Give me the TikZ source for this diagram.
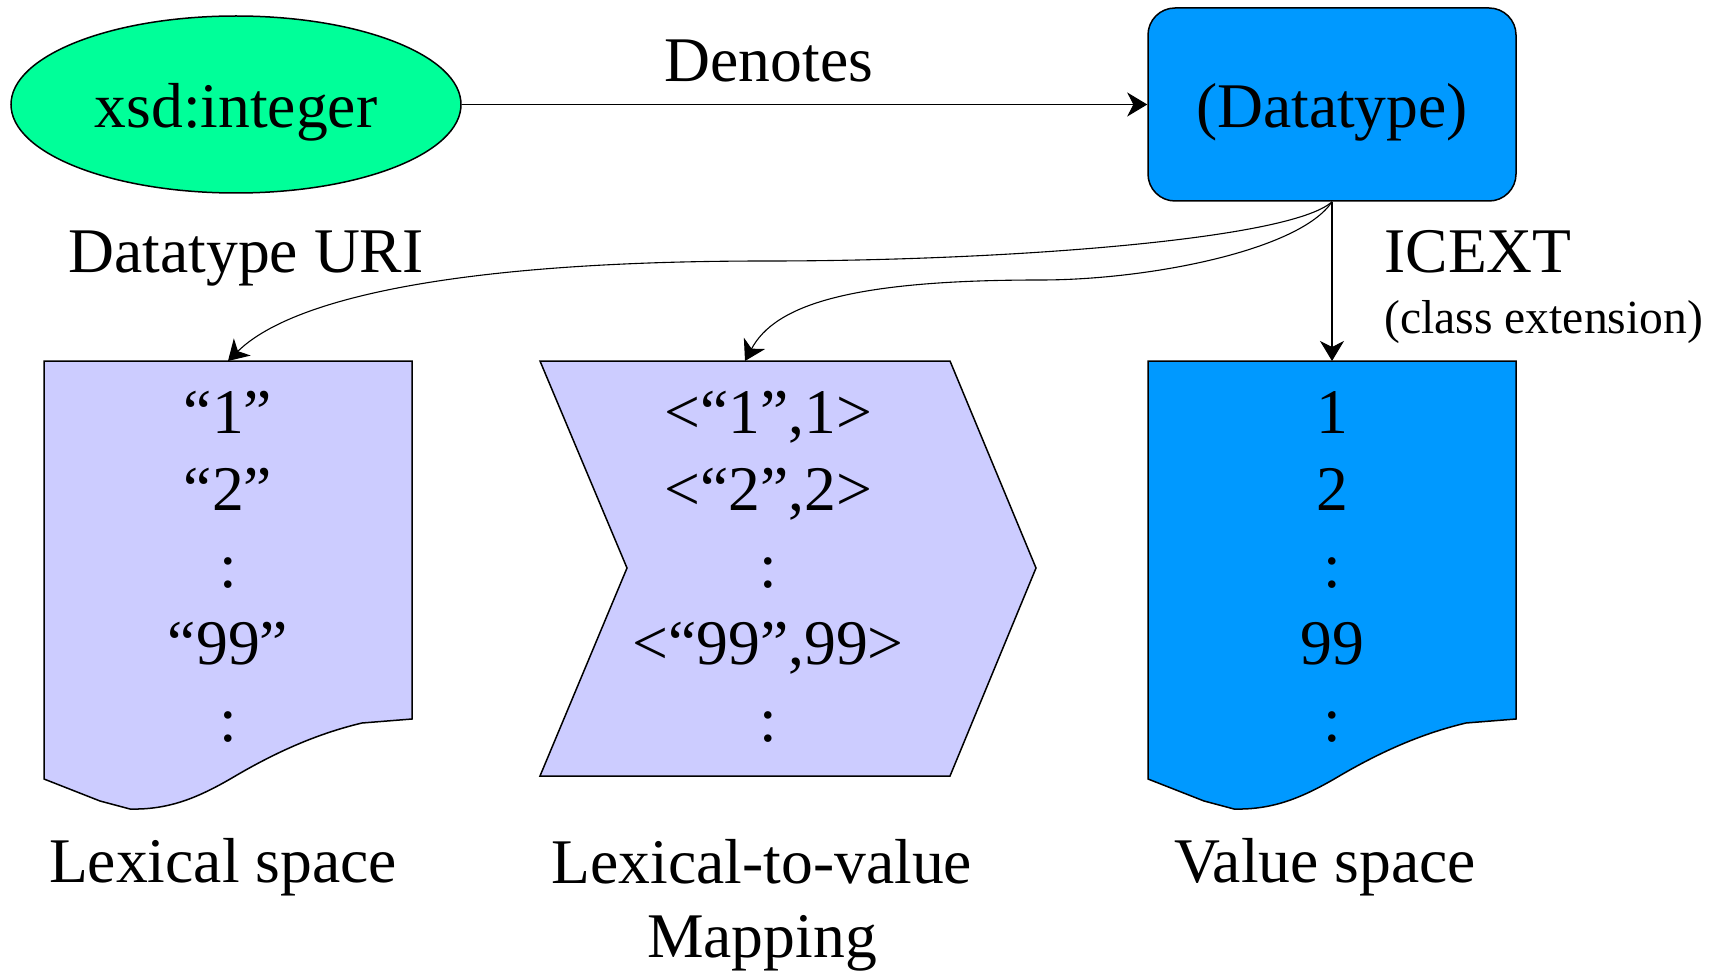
\documentclass[tikz,border=0pt]{standalone}
\usepackage{fontspec}
\setmainfont{Liberation Serif}
\usetikzlibrary{arrows.meta,shapes.geometric}

\definecolor{uriGreen}{RGB}{0,255,153}
\definecolor{dtBlue}{RGB}{0,153,255}
\definecolor{spaceLilac}{RGB}{204,204,255}

\begin{document}
\begin{tikzpicture}[x=0.5pt,y=-0.5pt,
  big/.style={font=\fontsize{31.8}{38.5}\selectfont,inner sep=0pt},
  small/.style={font=\fontsize{23.8}{28}\selectfont,inner sep=0pt},
  shp/.style={draw,line width=0.75pt},
  arr/.style={-{Stealth[length=10pt,width=12pt,inset=3pt]},line width=0.55pt},
  docpage/.pic={\path[shp,pic actions] (0,0) -- (368,0) -- (368,358) -- (318,362)
      .. controls (276,372) and (236,389) .. (193,414)
      .. controls (156,436) and (126,449) .. (86,448) -- (56,440) -- (0,418) -- cycle;}]
\useasboundingbox (0,0) rectangle (1717,973);

% top row
\node[shp,ellipse,fill=uriGreen,big,minimum width=225pt,minimum height=88.5pt,text height=23.5pt,text depth=0pt] (uri) at (236,104.5) {xsd:integer};
\node[shp,rectangle,rounded corners=13.5pt,fill=dtBlue,big,minimum width=184pt,minimum height=96.5pt,text height=23.5pt,text depth=0pt] (dtype) at (1332,104.5) {(Datatype)};
\node[big,anchor=base] (denotes) at (769,82) {Denotes};
\node[big,anchor=base] (urilabel) at (246,272) {Datatype URI};
\node[big,anchor=base west] (icext) at (1384,272) {ICEXT};
\node[small,anchor=base west] (icextnote) at (1384,333) {(class extension)};

% the three spaces
\pic[fill=spaceLilac] at (44,361) {docpage};
\path[shp,fill=spaceLilac] (540,361) -- (950,361) -- (1036,568) -- (950,776) -- (540,776) -- (627,568) -- cycle;
\pic[fill=dtBlue] at (1148,361) {docpage};
\coordinate (lex) at (228,361);
\coordinate (map) at (745,361);
\coordinate (val) at (1332,361);

\foreach \t [count=\i] in {“1”,“2”,:,“99”,:}
  \node[big,anchor=base] (lex\i) at (228,{433+77*(\i-1)}) {\t};
\foreach \t [count=\i] in {{<“1”,1>},{<“2”,2>},:,{<“99”,99>},:}
  \node[big,anchor=base] (map\i) at (768,{433+77*(\i-1)}) {\t};
\foreach \t [count=\i] in {1,2,:,99,:}
  \node[big,anchor=base] (val\i) at (1332,{433+77*(\i-1)}) {\t};

\node[big,anchor=base] (lexlabel) at (223,882) {Lexical space};
\node[big,anchor=north,align=center,font=\fontsize{31.8}{37}\selectfont] (maplabel) at (762,839) {Lexical-to-value\\Mapping};
\node[big,anchor=base] (vallabel) at (1325,882) {Value space};

% connectors
\draw[arr] (uri) -- (dtype);
\draw[arr] (dtype.south) -- (val);
\draw[arr] (dtype.south) .. controls (1290,240) and (1000,261) .. (767,261)
  .. controls (450,261) and (290,300) .. (lex);
\draw[arr] (dtype.south) .. controls (1300,250) and (1150,280) .. (1040,280)
  .. controls (850,280) and (775,305) .. (map);
\end{tikzpicture}
\end{document}
